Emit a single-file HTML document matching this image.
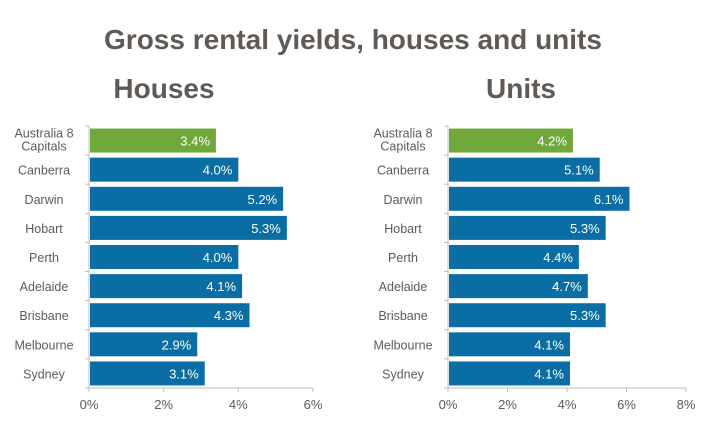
<!DOCTYPE html>
<html><head><meta charset="utf-8"><style>
body{margin:0;background:#fff;width:726px;height:427px;overflow:hidden}
svg{font-family:"Liberation Sans",sans-serif}
</style></head><body>
<svg id="c" width="726" height="427">
<text x="353" y="49" text-anchor="middle" font-size="28" font-weight="bold" fill="#5f5a55">Gross rental yields, houses and units</text>
<text x="164" y="98" text-anchor="middle" font-size="28" font-weight="bold" fill="#5f5a55">Houses</text>
<text x="521" y="98" text-anchor="middle" font-size="28" font-weight="bold" fill="#5f5a55">Units</text>
</svg>
<script>
const categories=["Australia 8 Capitals","Canberra","Darwin","Hobart","Perth","Adelaide","Brisbane","Melbourne","Sydney"];
const housesValues=[3.4,4.0,5.2,5.3,4.0,4.1,4.3,2.9,3.1];
const unitsValues=[4.2,5.1,6.1,5.3,4.4,4.7,5.3,4.1,4.1];
const housesTicks=[0,2,4,6];
const unitsTicks=[0,2,4,6,8];
const svg=document.getElementById('c');
const NS="http://www.w3.org/2000/svg";
function mk(t,a,txt){const e=document.createElementNS(NS,t);for(const k in a)e.setAttribute(k,a[k]);if(txt!==undefined)e.textContent=txt;svg.appendChild(e);return e;}
function panel(name,x0,x1,maxV,ticks,vals,labelX){
  const top=126,bottom=388,n=categories.length,step=(bottom-top)/n;
  const xs=v=>x0+(x1-x0)*v/maxV;
  let e=mk('line',{x1:x0,y1:top,x2:x0,y2:bottom,stroke:'#bfbfbf'});
  
  
  e=mk('line',{x1:x0,y1:bottom,x2:x1,y2:bottom,stroke:'#bfbfbf'});
  
  
  for(let i=0;i<=n;i++){mk('line',{x1:x0-4,y1:top+i*step,x2:x0,y2:top+i*step,stroke:'#bfbfbf'});}
  ticks.forEach(t=>{
    mk('line',{x1:xs(t),y1:bottom,x2:xs(t),y2:bottom+4,stroke:'#bfbfbf'});
    const l=mk('text',{x:xs(t),y:409,'text-anchor':'middle','font-size':13,fill:'#5f5a55'},t+'%');
    
    
  });
  categories.forEach((c,i)=>{
    const cy=top+step*i+step/2;
    const r=mk('rect',{x:x0+1,y:cy-12,width:xs(vals[i])-x0-1,height:24,fill:i===0?'#70a83b':'#0a6ea4'});
    
    
    const v=mk('text',{x:xs(vals[i])-6,y:cy+5,'text-anchor':'end','font-size':13,fill:'#fff'},vals[i].toFixed(1)+'%');
    
    
    let lab;
    if(i===0){
      lab=mk('text',{x:labelX,y:cy-3,'text-anchor':'middle','font-size':12.5,fill:'#5f5a55'});
      const a=document.createElementNS(NS,'tspan');a.setAttribute('x',labelX);a.textContent='Australia  8';lab.appendChild(a);
      const b=document.createElementNS(NS,'tspan');b.setAttribute('x',labelX);b.setAttribute('dy','13');b.textContent='Capitals';lab.appendChild(b);
    } else {
      lab=mk('text',{x:labelX,y:cy+5,'text-anchor':'middle','font-size':12.5,fill:'#5f5a55'},c);
    }
    
    
  });
}
panel('houses',89,313,6,housesTicks,housesValues,44);
panel('units',448,686,8,unitsTicks,unitsValues,403);
</script>
</body></html>
